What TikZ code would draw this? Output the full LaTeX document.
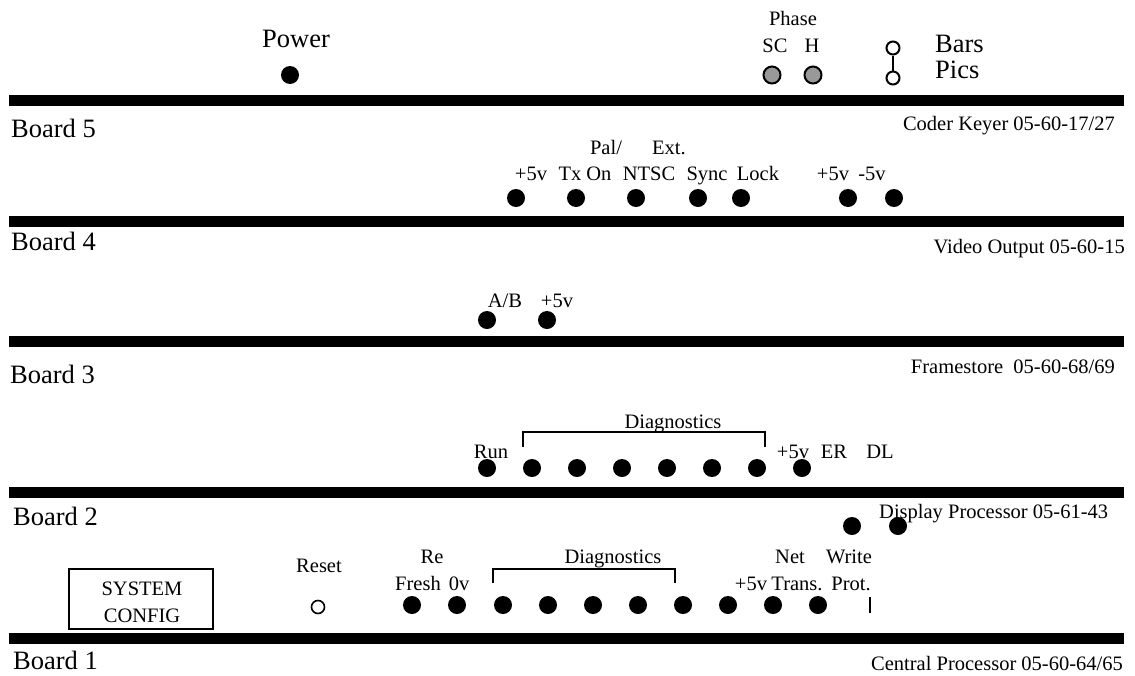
\documentclass[tikz,border=0pt]{standalone}
\usepackage{fontspec}
\setmainfont{Liberation Serif}
\newcommand\lblsize{\fontsize{20.5}{24}\selectfont}
\newcommand\bigsize{\fontsize{26.5}{30}\selectfont}
\begin{document}
\begin{tikzpicture}[x=1pt,y=-1pt,
  bar/.style={line width=11pt},
  led/.style={circle,fill=black,inner sep=0pt,minimum size=18pt},
  phaseled/.style={circle,fill=black!40,draw=black,line width=2pt,inner sep=0pt,minimum size=17pt},
  ring/.style={circle,draw=black,line width=1.6pt,inner sep=0pt,minimum size=13pt},
  lbl/.style={font=\lblsize,inner sep=0pt,anchor=base},
  rlbl/.style={font=\lblsize,inner sep=0pt,anchor=base east},
  board/.style={font=\bigsize,inner sep=0pt,anchor=base west},
  big/.style={font=\bigsize,inner sep=0pt,anchor=base},
  bracket/.style={line width=2.2pt},
  cfgbox/.style={draw=black,line width=1.5pt,minimum width=144pt,minimum height=60pt,align=center,font=\lblsize,inner sep=0pt}]
\useasboundingbox (0,0) rectangle (1135,675);

% board separator bars
\foreach \yy in {100.5,221.5,341.5,492,638}
  \draw[bar] (9,\yy) -- (1124,\yy);

% front panel: power, phase, bars/pics switch
\node[big] (power) at (296,47) {Power};
\node[led] (pwr) at (290,75) {};
\node[lbl] (phase) at (793,25) {Phase};
\node[lbl] (sc) at (775,52) {SC};
\node[lbl] (h) at (812,52) {H};
\node[phaseled] (scled) at (772,75) {};
\node[phaseled] (hled) at (813,75) {};
\node[ring,line width=2pt] (swbars) at (893,48) {};
\node[ring,line width=2pt] (swpics) at (893,78) {};
\draw[line width=2pt] (swbars) -- (swpics);
\node[font=\bigsize,inner sep=0pt,anchor=base west] (bars) at (935,52) {Bars};
\node[font=\bigsize,inner sep=0pt,anchor=base west] (pics) at (935,78) {Pics};

% board 5
\node[board] (board5) at (11,137) {Board 5};
\node[rlbl] (coder) at (1115,130) {Coder Keyer 05-60-17/27};
\node[lbl] (pal) at (606,154) {Pal/};
\node[lbl] (ext) at (669,154) {Ext.};
\node[lbl] (l5a) at (531,180) {+5v};
\node[lbl] (l5b) at (585,180) {Tx On};
\node[lbl] (l5c) at (649,180) {NTSC};
\node[lbl] (l5d) at (707,180) {Sync};
\node[lbl] (l5e) at (758,180) {Lock};
\node[lbl] (l5f) at (833,180) {+5v};
\node[lbl] (l5g) at (872,180) {-5v};
\foreach \n/\xx in {a/516,b/576,c/636,d/698,e/741,f/848,g/894}
  \node[led] (d5\n) at (\xx,198) {};

% board 4
\node[board] (board4) at (11,250) {Board 4};
\node[rlbl] (video) at (1125,253) {Video Output 05-60-15};
\node[lbl] (ab) at (505,307) {A/B};
\node[lbl] (l4b) at (557,307) {+5v};
\node[led] (d4a) at (487,320) {};
\node[led] (d4b) at (547,320) {};

% board 3
\node[board] (board3) at (10,383) {Board 3};
\node[rlbl] (frame) at (1115,373) {Framestore\ \ 05-60-68/69};
\node[lbl] (diag3) at (673,428) {Diagnostics};
\coordinate (br3a) at (523,447);
\coordinate (br3b) at (765,447);
\draw[bracket] (br3a) -- ++(0,-15) -| (br3b);
\node[lbl] (run) at (491,458) {Run};
\node[lbl] (l3p) at (793,458) {+5v};
\node[lbl] (er) at (834,458) {ER};
\node[lbl] (dl) at (880,458) {DL};
\foreach \n/\xx in {a/487,b/532,c/577,d/622,e/667,f/712,g/757,h/802}
  \node[led] (d3\n) at (\xx,468) {};

% board 2
\node[board] (board2) at (13,525) {Board 2};
\node[led] (d2x) at (852,526) {};
\node[led] (d2y) at (898,526) {};
\node[font=\lblsize,inner sep=0pt,anchor=base west] (disp) at (879,518) {Display Processor 05-61-43};
\node[lbl] (re) at (432,563) {Re};
\node[lbl] (diag2) at (613,563) {Diagnostics};
\node[lbl] (net) at (790,563) {Net};
\node[lbl] (write) at (849,563) {Write};
\node[lbl] (fresh) at (418,590) {Fresh};
\node[lbl] (zv) at (459,590) {0v};
\node[lbl] (l2p) at (751,590) {+5v};
\node[lbl] (trans) at (797,590) {Trans.};
\node[lbl] (prot) at (851,590) {Prot.};
\coordinate (br2a) at (493,583);
\coordinate (br2b) at (675,583);
\draw[bracket] (br2a) -- ++(0,-14) -| (br2b);
\foreach \n/\xx in {a/412,b/457,c/503,d/548,e/593,f/638,g/683,h/728,i/773,j/818}
  \node[led] (d2\n) at (\xx,605) {};
\coordinate (wpa) at (870,597);
\coordinate (wpb) at (870,613);
\draw[line width=2.5pt] (wpa) -- (wpb);
\node[lbl] (reset) at (319,572) {Reset};
\node[ring] (rst) at (318,607) {};
\node[cfgbox] (cfg) at (141,599) {};
\node[lbl] (sys1) at (142,595) {SYSTEM};
\node[lbl] (sys2) at (142,622) {CONFIG};

% board 1
\node[board] (board1) at (13,669) {Board 1};
\node[rlbl] (cpu) at (1123,670) {Central Processor 05-60-64/65};
\end{tikzpicture}
\end{document}
